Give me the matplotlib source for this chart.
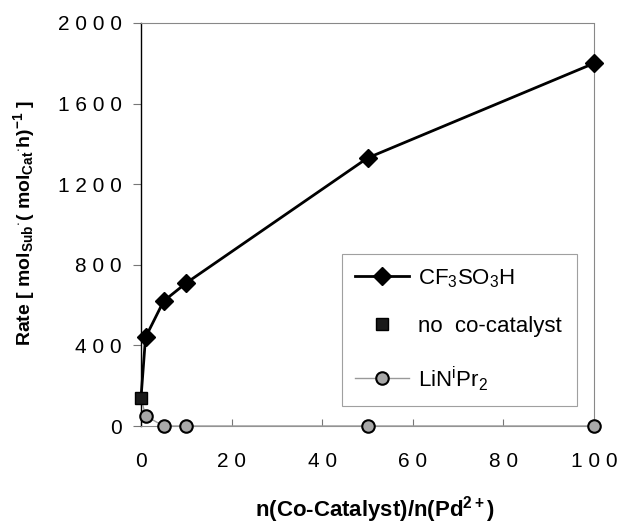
import matplotlib
matplotlib.use("Agg")
import matplotlib.pyplot as plt
from matplotlib.lines import Line2D

plt.rcParams['font.family'] = ['Liberation Sans', 'DejaVu Sans']
plt.rcParams['mathtext.fontset'] = 'custom'
plt.rcParams['mathtext.rm'] = 'Liberation Sans'
plt.rcParams['mathtext.bf'] = 'Liberation Sans:bold'
plt.rcParams['mathtext.it'] = 'Liberation Sans:italic'

# Data
cf_x = [0, 1, 5, 10, 50, 100]
cf_y = [140, 440, 620, 710, 1330, 1800]
noco_x = [0]
noco_y = [140]
li_x = [0, 1, 5, 10, 50, 100]
li_y = [140, 50, 0, 0, 0, 0]
xticks = [0, 20, 40, 60, 80, 100]
yticks = [0, 400, 800, 1200, 1600, 2000]

fig = plt.figure(figsize=(6.17, 5.28), dpi=100)
ax = fig.add_axes([141/617, 1 - 426/528, (594-141)/617, (426-23)/528])

ax.plot(li_x, li_y, color='#999999', lw=1.0, marker='o', markevery=list(range(1, len(li_x))),
        markersize=9, markerfacecolor='#a8a8a8', markeredgecolor='black', markeredgewidth=1.5,
        zorder=3, clip_on=False)
ax.plot(cf_x, cf_y, color='black', lw=2.0, marker='D', markevery=list(range(1, len(cf_x))),
        markersize=9, markerfacecolor='black', markeredgecolor='black', zorder=4, clip_on=False)
ax.plot(noco_x, noco_y, linestyle='none', marker='s', markersize=9, markerfacecolor='#1a1a1a',
        markeredgecolor='black', zorder=5, clip_on=False)

def spaced(v):
    return ' '.join(str(v))

ax.set_xlim(0, 100)
ax.set_ylim(0, 2000)
ax.set_xticks(xticks)
ax.set_yticks(yticks)
ax.set_xticklabels([spaced(v) for v in xticks])
ax.set_yticklabels([spaced(v) for v in yticks])
ax.tick_params(axis='x', direction='in', length=5, width=0.8, color='#777777', pad=19, labelsize=15)
ax.tick_params(axis='y', direction='out', length=6, width=0.8, color='#777777', pad=8, labelsize=15)

ax.spines['left'].set_color('black')
ax.spines['left'].set_linewidth(1.0)
for s in ['top', 'right', 'bottom']:
    ax.spines[s].set_color('#888888')
    ax.spines[s].set_linewidth(0.8)
ax.spines['right'].set_linestyle((0, (2, 1)))

ax.set_xlabel(r'n(Co-Catalyst)/n(Pd$^{\mathbf{2+}}$)', fontsize=16, fontweight='bold')
ax.xaxis.set_label_coords((375 - 141) / 453, (426 - 494) / 403)
ax.set_ylabel(r'Rate [ mol$_{\mathbf{Sub}}$$^{\cdot}$( mol$_{\mathbf{Cat}}$$^{\cdot}$h)$^{\mathbf{-1}}$ ]',
              fontsize=14, fontweight='bold')
ax.yaxis.set_label_coords((37 - 141) / 453, (426 - 223) / 403)

handles = [
    Line2D([], [], color='black', lw=2.0, marker='D', markersize=9, markerfacecolor='black'),
    Line2D([], [], linestyle='none', marker='s', markersize=9, markerfacecolor='#1a1a1a', markeredgecolor='black'),
    Line2D([], [], color='#999999', lw=1.0, marker='o', markersize=9, markerfacecolor='#a8a8a8',
           markeredgecolor='black', markeredgewidth=1.5),
]
labels = [r'CF$_3$SO$_3$H', 'no  co-catalyst', r'LiN$^{\mathrm{i}}$Pr$_2$']
leg = ax.legend(handles, labels, loc='lower left',
                bbox_to_anchor=((342-141)/453, (426-406)/403, (577-342)/453, (406-254)/403),
                mode='expand', fontsize=16, frameon=True, fancybox=False, edgecolor='#888888',
                borderpad=0.6, labelspacing=1.2, handlelength=2.4, handletextpad=0.4, borderaxespad=0)
leg.get_frame().set_linewidth(0.8)

fig.savefig('out.png', dpi=100)
